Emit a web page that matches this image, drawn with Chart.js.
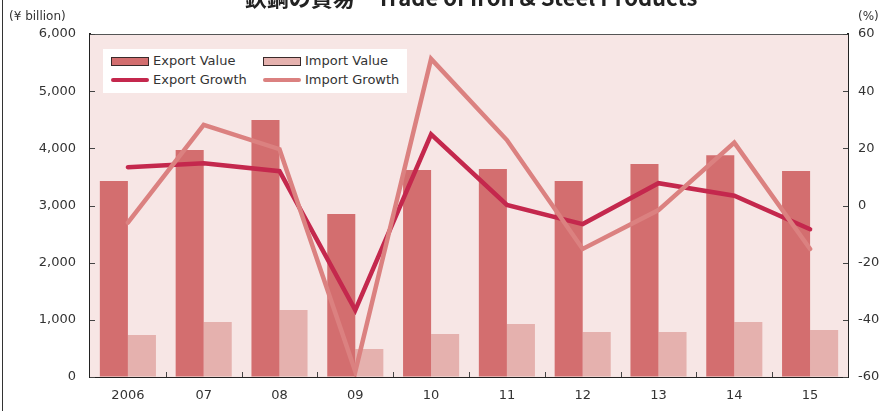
<!DOCTYPE html>
<html>
<head>
<meta charset="utf-8">
<script src="https://cdn.jsdelivr.net/npm/chart.js@4.4.1/dist/chart.umd.min.js"></script>
<style>
  html, body { margin: 0; padding: 0; background: #fff; }
  #wrap { position: relative; width: 893px; height: 411px; overflow: hidden; }
  #title {
    position: absolute; left: 0; width: 942px; top: -15px; text-align: center;
    font: bold 22px "Noto Sans CJK JP", "Noto Sans", sans-serif; color: #222; line-height: 22px;
    white-space: nowrap;
  }
  #edge { position: absolute; left: 2px; top: 0; width: 1px; height: 411px; background: #333; }
  #legend {
    position: absolute; left: 103px; top: 49px; width: 304px; height: 44px; background: #fff;
    font: 13px "DejaVu Sans", sans-serif; color: #333;
  }
  .item { position: absolute; height: 16px; line-height: 16px; white-space: nowrap; }
  .sw { position: absolute; left: 0; }
  .txt { position: absolute; left: 42px; top: 0; }
</style>
</head>
<body>
<div id="wrap">
  <canvas id="chart" width="893" height="411"></canvas>
  <div id="edge"></div>
  <div id="title">鉄鋼の貿易　Trade of Iron &amp; Steel Products</div>
  <div id="legend"></div>
</div>
<script>
// Data
const years = ["2006", "07", "08", "09", "10", "11", "12", "13", "14", "15"];
const exportValue = [3430, 3970, 4495, 2850, 3620, 3640, 3430, 3725, 3880, 3605];
const importValue = [735, 960, 1170, 490, 752, 927, 787, 787, 960, 822];
const exportGrowth = [13.4, 14.8, 12.0, -36.6, 24.9, 0.2, -6.5, 7.8, 3.4, -8.3];
const importGrowth = [-6.0, 28.2, 19.7, -58.1, 51.3, 22.9, -15.2, -1.6, 22.0, -15.2];
const leftTicks = [0, 1000, 2000, 3000, 4000, 5000, 6000];
const rightTicks = [-60, -40, -20, 0, 20, 40, 60];

const colors = {
    exportBar: "#d36e6f",
    importBar: "#e5b1ae",
    exportLine: "#c4284d",
    importLine: "#db8180",
    plotBg: "#f7e6e5",
    axis: "#222",
    text: "#333",
};

const font = { family: "'DejaVu Sans', sans-serif", size: 13 };

// chart area background, top border, inward tick marks and unit labels
const decorations = {
    id: "decorations",
    beforeDatasetsDraw(chart) {
        const { ctx, chartArea: a } = chart;
        ctx.save();
        ctx.fillStyle = colors.plotBg;
        ctx.fillRect(a.left, a.top, a.right - a.left, a.bottom - a.top);
        ctx.restore();
    },
    afterDraw(chart) {
        const { ctx, chartArea: a, scales } = chart;
        ctx.save();
        ctx.strokeStyle = "#555";
        ctx.lineWidth = 1;
        ctx.beginPath();
        ctx.moveTo(a.left, a.top + 0.5);
        ctx.lineTo(a.right, a.top + 0.5);
        ctx.stroke();

        ctx.strokeStyle = "#444";
        ctx.beginPath();
        leftTicks.forEach(v => {
            const y = Math.round(scales.y.getPixelForValue(v)) + 0.5;
            ctx.moveTo(a.left, y);
            ctx.lineTo(a.left + 5, y);
        });
        rightTicks.forEach(v => {
            const y = Math.round(scales.y1.getPixelForValue(v)) + 0.5;
            ctx.moveTo(a.right - 5, y);
            ctx.lineTo(a.right, y);
        });
        for (let i = 1; i < years.length; i++) {
            const x = Math.round((scales.x.getPixelForValue(i - 1) + scales.x.getPixelForValue(i)) / 2) + 0.5;
            ctx.moveTo(x, a.bottom);
            ctx.lineTo(x, a.bottom - 5);
        }
        ctx.stroke();

        ctx.fillStyle = colors.text;
        ctx.font = "12px 'DejaVu Sans', sans-serif";
        ctx.textBaseline = "middle";
        ctx.textAlign = "left";
        ctx.fillText("(¥ billion)", 9, 17);
        ctx.fillText("(%)", 858, 17);
        ctx.restore();
    },
};

const ctx = document.getElementById("chart").getContext("2d");
const chart = new Chart(ctx, {
    type: "bar",
    data: {
        labels: years,
        datasets: [
            {
                type: "line",
                label: "Import Growth",
                data: importGrowth,
                yAxisID: "y1",
                borderColor: colors.importLine,
                backgroundColor: colors.importLine,
                borderWidth: 4.5,
                pointRadius: 0,
                borderCapStyle: "round",
                borderJoinStyle: "miter",
                order: 0,
            },
            {
                type: "line",
                label: "Export Growth",
                data: exportGrowth,
                yAxisID: "y1",
                borderColor: colors.exportLine,
                backgroundColor: colors.exportLine,
                borderWidth: 4.5,
                pointRadius: 0,
                borderCapStyle: "round",
                borderJoinStyle: "miter",
                order: 1,
            },
            {
                label: "Export Value",
                data: exportValue,
                yAxisID: "y",
                backgroundColor: colors.exportBar,
                categoryPercentage: 0.74,
                barPercentage: 1.0,
                order: 2,
            },
            {
                label: "Import Value",
                data: importValue,
                yAxisID: "y",
                backgroundColor: colors.importBar,
                categoryPercentage: 0.74,
                barPercentage: 1.0,
                order: 2,
            },
        ],
    },
    options: {
        responsive: false,
        animation: false,
        devicePixelRatio: 1,
        layout: { padding: { top: 34, left: 0, right: 0, bottom: 0 } },
        plugins: {
            legend: { display: false },
            title: { display: false },
            tooltip: { enabled: false },
        },
        scales: {
            x: {
                grid: { drawOnChartArea: false, drawTicks: false },
                border: { color: colors.axis, width: 2 },
                ticks: { color: colors.text, font, padding: 11, maxRotation: 0 },
                afterFit(s) { s.height = 34; },
            },
            y: {
                position: "left",
                min: 0,
                max: 6000,
                grid: { drawOnChartArea: false, drawTicks: false },
                border: { color: colors.axis, width: 2 },
                ticks: {
                    stepSize: 1000,
                    color: colors.text,
                    font,
                    padding: 14,
                    callback: v => v.toLocaleString("en-US"),
                },
                afterFit(s) { s.width = 90; },
            },
            y1: {
                position: "right",
                min: -60,
                max: 60,
                grid: { drawOnChartArea: false, drawTicks: false },
                border: { color: colors.axis, width: 2 },
                ticks: { stepSize: 20, color: colors.text, font, padding: 10 },
                afterFit(s) { s.width = 45; },
            },
        },
    },
    plugins: [decorations],
});

// HTML legend laid out in two columns like the reference
const legendEl = document.getElementById("legend");
const legendSpots = {
    "Export Value": [8, 4],
    "Import Value": [160, 4],
    "Export Growth": [8, 23],
    "Import Growth": [160, 23],
};
chart.data.datasets.forEach(ds => {
    const [lx, ly] = legendSpots[ds.label];
    const item = document.createElement("div");
    item.className = "item";
    item.style.left = lx + "px";
    item.style.top = ly + "px";
    const sw = document.createElement("div");
    sw.className = "sw";
    if (ds.type === "line") {
        sw.style.cssText += `top:6px;width:38px;height:4px;border-radius:2px;background:${ds.borderColor};`;
    } else {
        sw.style.cssText += `top:4px;width:36px;height:7px;border:1px solid #3a2a2a;background:${ds.backgroundColor};`;
    }
    const txt = document.createElement("div");
    txt.className = "txt";
    txt.textContent = ds.label;
    item.appendChild(sw);
    item.appendChild(txt);
    legendEl.appendChild(item);
});
</script>
</body>
</html>
